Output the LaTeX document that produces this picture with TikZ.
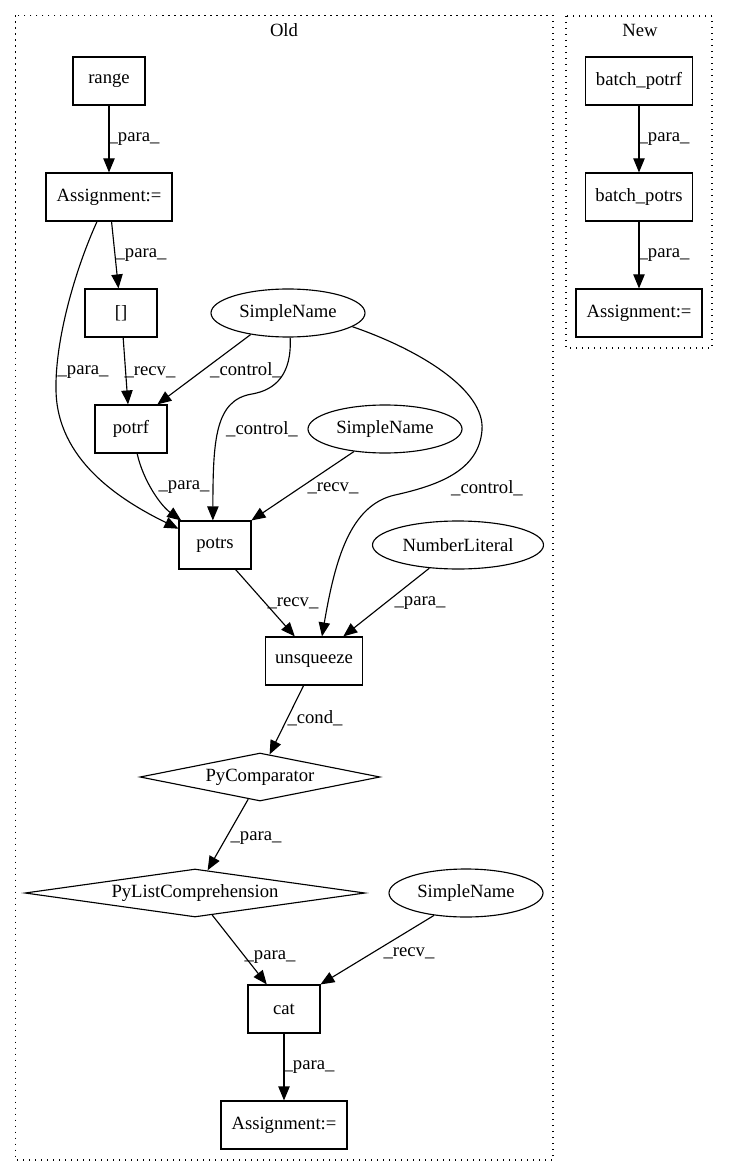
\documentclass[tikz,border=0pt]{standalone}
\usepackage{fontspec}
\setmainfont{Liberation Serif}
\usetikzlibrary{shapes.geometric,arrows.meta}
\begin{document}
\begin{tikzpicture}[x=0.75pt,y=-0.75pt,
  txt/.style={font=\fontsize{14}{16}\selectfont},
  box/.style={txt,draw,line width=0.85pt,rectangle,minimum height=36pt,minimum width=54pt,inner sep=0pt},
  oval/.style={txt,draw,line width=0.85pt,ellipse,minimum height=36pt,minimum width=115.5pt,inner sep=0pt},
  dia/.style={txt,draw,line width=0.85pt,diamond,minimum height=36pt,inner sep=0pt},
  lbl/.style={txt,inner sep=0pt},
  conn/.style={line width=0.85pt,-{Triangle[length=10.5pt,width=8.5pt]}},
  cluster/.style={line width=1pt,dash pattern=on 1pt off 3.5pt}]
\useasboundingbox (0,0) rectangle (728,1176);

% clusters
\draw[cluster] (15.5,15.5) rectangle (553,1160);
\draw[cluster] (566,16) rectangle (712,348);
\node[lbl] (oldt) at (284,30) {Old};
\node[lbl] (newt) at (640,30) {New};

% Old nodes
\node[box] (range) at (109,81) {range};
\node[box,minimum width=94.5pt] (asg1) at (109,197) {Assignment:=};
\node[box] (br) at (121,313) {[]};
\node[oval] (sn1) at (288,313) {SimpleName};
\node[box] (potrf) at (131,429) {potrf};
\node[oval] (sn2) at (385,429) {SimpleName};
\node[box] (potrs) at (215,545) {potrs};
\node[oval,minimum width=128.25pt] (nl) at (458,545) {NumberLiteral};
\node[box,minimum width=72.75pt] (unsq) at (314,661) {unsqueeze};
\node[dia,minimum width=180pt,aspect=5] (pycomp) at (260,777) {PyComparator};
\node[dia,minimum width=255pt,aspect=7] (pylist) at (195,893) {PyListComprehension};
\node[oval] (sn3) at (466,893) {SimpleName};
\node[box] (cat) at (284,1009) {cat};
\node[box,minimum width=94.5pt] (asg2) at (284,1125) {Assignment:=};

% New nodes
\node[box,minimum width=80.25pt] (bpotrf) at (639,81) {batch\_potrf};
\node[box,minimum width=80.25pt] (bpotrs) at (639,197) {batch\_potrs};
\node[box,minimum width=94.5pt] (asg3) at (639,313) {Assignment:=};

% Old edges
\draw[conn] (range) -- (asg1);
\draw[conn] (asg1) -- (br);
\draw[conn] (asg1.244) .. controls (75,270) and (55,340) .. (56,390)
   .. controls (57,460) and (120,500) .. (potrs.156);
\draw[conn] (br.275) -- (potrf.97);
\draw[conn] (sn1.210) -- (potrf.43);
\draw[conn] (sn1.275) .. controls (292,375) and (275,390) .. (252,394)
   .. controls (215,400) and (213,440) .. (potrs.95);
\draw[conn] (potrf.284) .. controls (143,480) and (160,505) .. (potrs.144);
\draw[conn] (sn2.216) -- (potrs.34);
\draw[conn] (sn1.-12) .. controls (420,350) and (485,390) .. (482,430)
   .. controls (479,470) and (440,485) .. (395,495)
   .. controls (350,505) and (335,560) .. (unsq.72);
\draw[conn] (potrs.310) -- (unsq.128);
\draw[conn] (nl.219) -- (unsq.40);
\draw[conn] (unsq.247) -- (pycomp.67);
\draw[conn] (pycomp.242) -- (pylist.61);
\draw[conn] (pylist.308) -- (cat.125);
\draw[conn] (sn3.215) -- (cat.34);
\draw[conn] (cat) -- (asg2);

% New edges
\draw[conn] (bpotrf) -- (bpotrs);
\draw[conn] (bpotrs) -- (asg3);

% edge labels
\node[lbl] (l1) at (134,139) {\_para\_};
\node[lbl] (l2) at (141,255) {\_para\_};
\node[lbl] (l3) at (83,372) {\_para\_};
\node[lbl] (l4) at (150,372) {\_recv\_};
\node[lbl] (l5) at (246,370) {\_control\_};
\node[lbl] (l6) at (262,429) {\_control\_};
\node[lbl] (l7) at (184,487) {\_para\_};
\node[lbl] (l8) at (333,488) {\_recv\_};
\node[lbl] (l9) at (487,488) {\_control\_};
\node[lbl] (l10) at (293,603) {\_recv\_};
\node[lbl] (l11) at (420,603) {\_para\_};
\node[lbl] (l12) at (315,718) {\_cond\_};
\node[lbl] (l13) at (256,838) {\_para\_};
\node[lbl] (l14) at (270,957) {\_para\_};
\node[lbl] (l15) at (409,953) {\_recv\_};
\node[lbl] (l16) at (309,1067) {\_para\_};
\node[lbl] (l17) at (664,139) {\_para\_};
\node[lbl] (l18) at (664,255) {\_para\_};
\end{tikzpicture}
\end{document}
